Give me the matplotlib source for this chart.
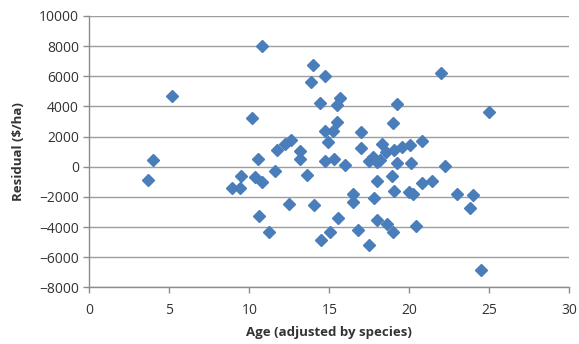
import matplotlib
matplotlib.use("Agg")
import matplotlib.pyplot as plt

# Residuals against species-adjusted age
age = [3.7, 4.0, 5.2, 8.95, 9.45, 9.5, 10.15, 10.35, 10.55, 10.6,
       10.8, 10.8, 11.2, 11.6, 11.75, 12.2, 12.6, 12.45, 13.15, 13.15,
       13.6, 13.85, 14.0, 14.05, 14.4, 14.45, 14.75, 14.75, 14.9, 14.7,
       15.05, 15.25, 15.3, 15.5, 15.65, 15.5, 15.55, 16.0, 16.5, 16.5,
       16.8, 16.95, 16.95, 17.5, 17.5, 17.7, 17.8, 18.0, 18.0, 18.0,
       18.3, 18.15, 18.55, 18.6, 18.9, 19.0, 19.05, 19.05, 19.0, 19.2,
       19.25, 19.55, 20.05, 20.1, 20.0, 20.25, 20.4, 20.8, 20.8, 21.4,
       22.0, 22.2, 23.0, 23.8, 24.0, 24.5, 25.0]
residual = [-870, 420, 4700, -1380, -1400, -600, 3250, -650, 500, -3250,
            -1000, 8000, -4350, -300, 1100, 1500, 1750, -2450, 1050, 500,
            -580, 5600, 6750, -2550, 4200, -4870, 6000, 2350, 1650, 350,
            -4350, 2350, 500, 4080, 4580, 2950, -3420, 90, -1800, -2320,
            -4180, 2330, 1220, 350, -5220, 650, -2050, 300, -920, -3560,
            1520, 450, 1000, -3820, -600, 2920, 1100, -1630, -4300, 4180,
            250, 1300, 1420, 280, -1650, -1800, -3930, 1700, -1100, -950,
            6200, 50, -1800, -2750, -1900, -6850, 3600]

xticks = [0, 5, 10, 15, 20, 25, 30]
yticks = list(range(-8000, 10001, 2000))

plt.rcParams['font.family'] = ['Open Sans', 'DejaVu Sans']

fig = plt.figure(figsize=(5.79, 3.44), dpi=100)
ax = fig.add_axes([0.1542, 0.1648, 0.8291, 0.7887])

ax.plot(age, residual, linestyle='none', marker='D', markersize=5.8,
        color='#4A7EBB', markeredgecolor='#4A7EBB', zorder=3)

ax.set_xlim(0, 30)
ax.set_ylim(-8000, 10000)
ax.set_xticks(xticks)
ax.set_yticks(yticks)

ax.yaxis.grid(True, color='#9E9E9E', linewidth=1.0)
ax.set_axisbelow(True)
for side in ['top', 'right']:
    ax.spines[side].set_visible(False)
for side in ['left', 'bottom']:
    ax.spines[side].set_color('#8C8C8C')
    ax.spines[side].set_linewidth(1.0)

ax.tick_params(axis='both', direction='out', length=4, width=1,
               color='#8C8C8C', labelsize=10, labelcolor='#333333')
ax.tick_params(axis='x', pad=7)

ax.set_xlabel('Age (adjusted by species)', fontsize=9.5, fontweight='bold',
              color='#333333', labelpad=6)
ax.set_ylabel(r'Residual (\$/ha)', fontsize=9.5, fontweight='bold',
              color='#333333', labelpad=10)

fig.savefig('out.png', dpi=100)
